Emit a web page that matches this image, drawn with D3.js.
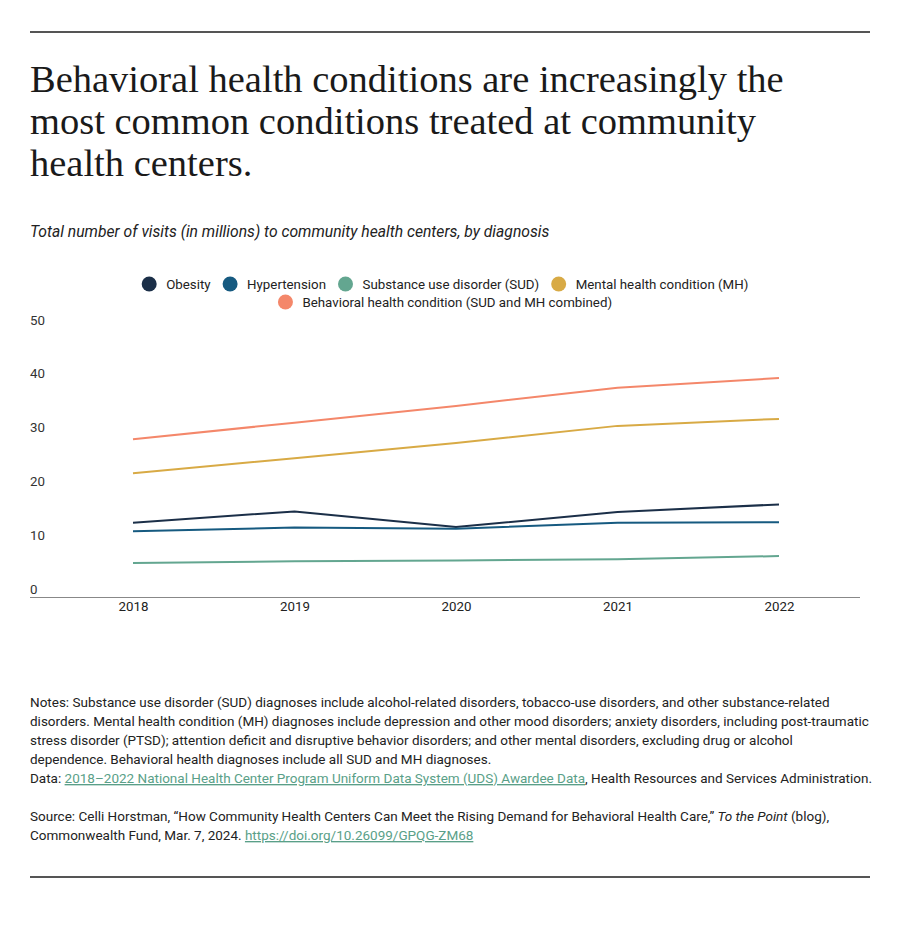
<!DOCTYPE html>
<html>
<head>
<meta charset="utf-8">
<script src="https://cdn.jsdelivr.net/npm/d3@7/dist/d3.min.js"></script>
<style>
  html, body { margin: 0; padding: 0; background: #fff; }
  svg { display: block; }
</style>
</head>
<body>
<svg id="chart" width="900" height="939"></svg>
<script>
const years = [2018, 2019, 2020, 2021, 2022];
const obesity = [13.9, 16.0, 13.1, 15.9, 17.3];
const hypertension = [12.3, 13.0, 12.8, 13.9, 14.0];
const sud = [6.4, 6.75, 6.9, 7.1, 7.7];
const mh = [23.1, 25.9, 28.7, 31.9, 33.2];
const bh = [29.4, 32.5, 35.6, 39.0, 40.8];
const yTicks = [0, 10, 20, 30, 40, 50];
const seriesNames = ["Obesity", "Hypertension", "Substance use disorder (SUD)", "Mental health condition (MH)", "Behavioral health condition (SUD and MH combined)"];
const seriesColors = ["#1b2f48", "#165a80", "#63a690", "#d8aa45", "#f4876a"];
const seriesValues = [obesity, hypertension, sud, mh, bh];

const svg = d3.select("#chart");
const SANS = "Roboto, 'Liberation Sans', sans-serif";
const SERIF = "'Liberation Serif', 'DejaVu Serif', serif";

// rules
svg.append("line").attr("x1", 30).attr("x2", 870).attr("y1", 32).attr("y2", 32)
  .attr("stroke", "#555").attr("stroke-width", 2);
svg.append("line").attr("x1", 30).attr("x2", 870).attr("y1", 877).attr("y2", 877)
  .attr("stroke", "#555").attr("stroke-width", 2);

// title
const titleLines = ["Behavioral health conditions are increasingly the", "most common conditions treated at community", "health centers."];
svg.append("g").selectAll("text").data(titleLines).join("text")
  .attr("x", 30).attr("y", (d, i) => 92 + i * 42)
  .attr("font-family", SERIF).attr("font-size", 38.5).attr("fill", "#1a1a1a")
  .text(d => d);

// subtitle
svg.append("text").attr("x", 30).attr("y", 237)
  .attr("font-family", SANS).attr("font-style", "italic").attr("font-size", 15.7)
  .attr("fill", "#222")
  .text("Total number of visits (in millions) to community health centers, by diagnosis");

// scales
const x = d3.scaleLinear().domain([2018, 2022]).range([133, 779]);
const y = d3.scaleLinear().domain([0, 50]).range([597.5, 328.5]);

// y labels
svg.append("g").selectAll("text").data(yTicks).join("text")
  .attr("x", 30).attr("y", d => y(d) - 4)
  .attr("font-family", SANS).attr("font-size", 13.3).attr("fill", "#333")
  .text(d => d);

// x axis
svg.append("line").attr("x1", 30).attr("x2", 860).attr("y1", y(0)).attr("y2", y(0))
  .attr("stroke", "#888").attr("stroke-width", 1);
const xAxis = d3.axisBottom(x).tickValues(years).tickFormat(d3.format("d")).tickSize(0).tickPadding(4);
const gx = svg.append("g").attr("transform", `translate(0,${y(0)})`).call(xAxis);
gx.select(".domain").remove();
gx.selectAll("text").attr("font-family", SANS).attr("font-size", 13.3).attr("fill", "#222");

// lines
const line = d3.line().x((d, i) => x(years[i])).y(d => y(d));
svg.append("g").selectAll("path").data(seriesValues).join("path")
  .attr("d", d => line(d)).attr("fill", "none")
  .attr("stroke", (d, i) => seriesColors[i]).attr("stroke-width", 2)
  .attr("stroke-linejoin", "round");

// legend
const legend = svg.append("g");
const rows = [[0, 1, 2, 3], [4]];
const rowY = [284, 302];
const r = 7.5, gapText = 9.5, gapItem = 12;
rows.forEach((row, ri) => {
  const g = legend.append("g");
  let cx = 0;
  row.forEach(si => {
    const it = g.append("g").attr("transform", `translate(${cx},0)`);
    it.append("circle").attr("cx", r).attr("cy", 0).attr("r", r).attr("fill", seriesColors[si]);
    const t = it.append("text").attr("x", 2 * r + gapText).attr("y", 4.5)
      .attr("font-family", SANS).attr("font-size", 13.3).attr("fill", "#222").text(seriesNames[si]);
    cx += 2 * r + gapText + t.node().getComputedTextLength() + gapItem;
  });
  const w = cx - gapItem;
  g.attr("transform", `translate(${445 - w / 2},${rowY[ri]})`);
});

// notes
const noteLines = [
  "Notes: Substance use disorder (SUD) diagnoses include alcohol-related disorders, tobacco-use disorders, and other substance-related",
  "disorders. Mental health condition (MH) diagnoses include depression and other mood disorders; anxiety disorders, including post-traumatic",
  "stress disorder (PTSD); attention deficit and disruptive behavior disorders; and other mental disorders, excluding drug or alcohol",
  "dependence. Behavioral health diagnoses include all SUD and MH diagnoses."
];
const notes = svg.append("g").attr("font-family", SANS).attr("font-size", 13.5).attr("fill", "#222");
noteLines.forEach((t, i) => {
  notes.append("text").attr("x", 30).attr("y", 707 + i * 19).text(t);
});
const dataLine = notes.append("text").attr("x", 30).attr("y", 783);
dataLine.append("tspan").text("Data: ");
dataLine.append("tspan").attr("fill", "#5a9f88").attr("text-decoration", "underline")
  .text("2018–2022 National Health Center Program Uniform Data System (UDS) Awardee Data");
dataLine.append("tspan").text(", Health Resources and Services Administration.");

const src1 = notes.append("text").attr("x", 30).attr("y", 821);
src1.append("tspan").text("Source: Celli Horstman, “How Community Health Centers Can Meet the Rising Demand for Behavioral Health Care,” ");
src1.append("tspan").attr("font-style", "italic").text("To the Point");
src1.append("tspan").text(" (blog),");
const src2 = notes.append("text").attr("x", 30).attr("y", 840);
src2.append("tspan").text("Commonwealth Fund, Mar. 7, 2024. ");
src2.append("tspan").attr("fill", "#5a9f88").attr("text-decoration", "underline")
  .text("https://doi.org/10.26099/GPQG-ZM68");
</script>
</body>
</html>
